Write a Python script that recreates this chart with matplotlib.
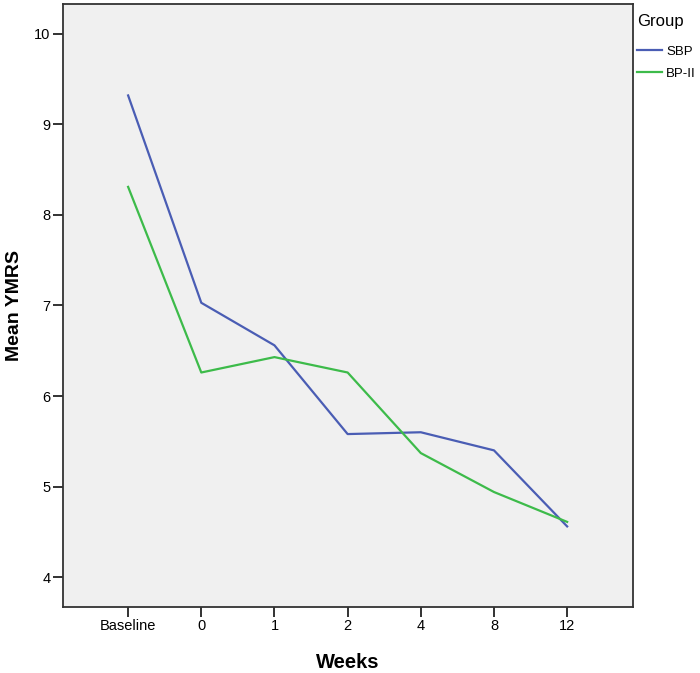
import matplotlib
matplotlib.use('Agg')
import matplotlib.pyplot as plt

plt.rcParams['font.family'] = ['Liberation Sans', 'DejaVu Sans']

weeks = ['Baseline', '0', '1', '2', '4', '8', '12']
sbp = [9.32, 7.03, 6.56, 5.58, 5.60, 5.40, 4.56]
bp2 = [8.31, 6.26, 6.43, 6.26, 5.37, 4.94, 4.61]
yticks = [4, 5, 6, 7, 8, 9, 10]

fig = plt.figure(figsize=(7, 6.73), dpi=100)
ax = fig.add_axes([63/700, 66/673, 570/700, 603/673])
ax.set_facecolor('#f0f0f0')

x = range(len(weeks))
ax.plot(x, sbp, color='#4a5db4', lw=1.6, label='SBP')
ax.plot(x, bp2, color='#3dbb4a', lw=1.6, label='BP-II')

ax.set_xlim(-0.89, 6.9)
ax.set_ylim(3.67, 10.33)
ax.set_xticks(list(x))
ax.set_xticklabels(weeks)
ax.set_yticks(yticks)
ax.tick_params(direction='out', length=7, width=1.3, labelsize=10.5, color='#222222', pad=2)

for s in ax.spines.values():
    s.set_color('#333333')
    s.set_linewidth(1.3)

ax.set_xlabel('Weeks', fontsize=14.5, fontweight='bold', labelpad=14)
ax.set_ylabel('Mean YMRS', fontsize=14, fontweight='bold', labelpad=8)

leg = fig.legend(loc='upper left', bbox_to_anchor=(637/700, 1 - 14/673), title='Group',
                 frameon=False, fontsize=9.5, title_fontsize=12, handlelength=1.9,
                 handletextpad=0.3, labelspacing=0.75, borderaxespad=0, borderpad=0)
leg._legend_box.align = 'left'
leg._legend_box.sep = 12

fig.savefig('out.png', dpi=100)
